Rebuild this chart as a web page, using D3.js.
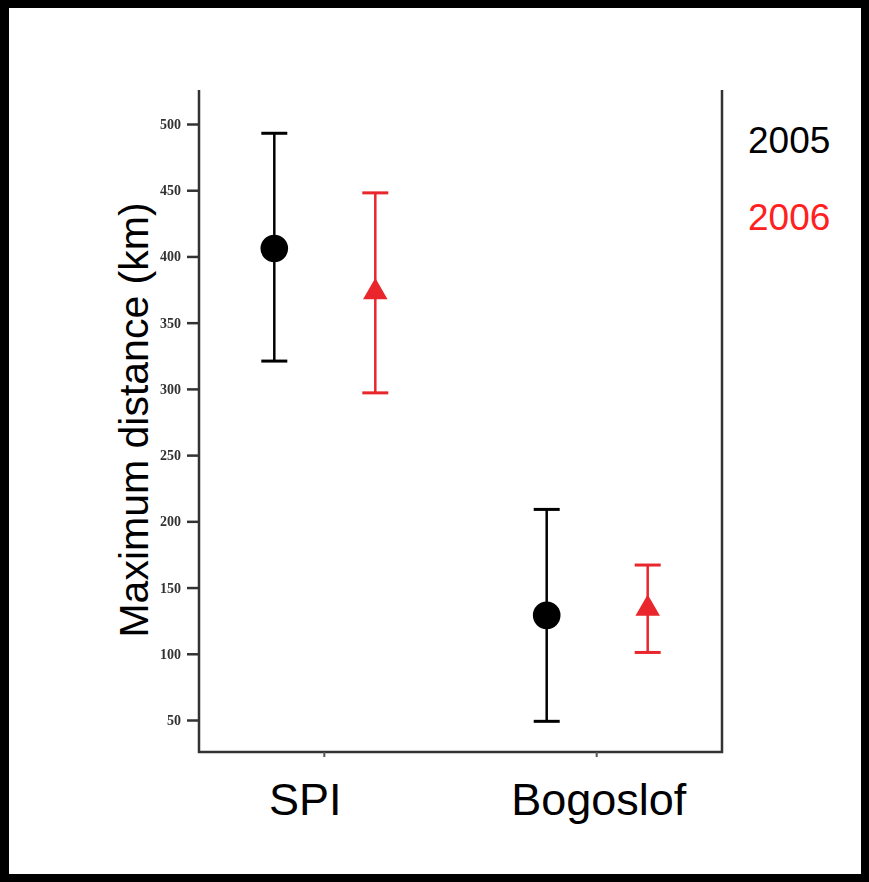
<!DOCTYPE html>
<html>
<head>
	<title></title>
	<style>
		body { margin: 0; background: #fff; }
		svg { display: block; }
	</style>
</head>
<body>
	<svg id="container" height="882" width="869"></svg>
</body>
<script src="https://d3js.org/d3.v7.min.js"></script>
<script>
	// sites along x, years as series
	let sites = ["SPI", "Bogoslof"]
	let years = ["2005", "2006"]
	let yearColors = ["#000000", "#e8262b"]
	let legendColors = ["#000000", "#ff2020"]

	// mean and error range, km
	let mean2005 = [406, 129]
	let low2005 = [321, 49]
	let high2005 = [493, 209]
	let mean2006 = [373, 134]
	let low2006 = [297, 101]
	let high2006 = [448, 167]

	let tickValues = [50, 100, 150, 200, 250, 300, 350, 400, 450, 500]

	let rows = []
	sites.forEach((s, i) => {
		rows.push({site: s, year: "2005", mean: mean2005[i], low: low2005[i], high: high2005[i]})
		rows.push({site: s, year: "2006", mean: mean2006[i], low: low2006[i], high: high2006[i]})
	})

	let svg = d3.select("#container")

	// blurred look of the tick labels
	let defs = svg.append("defs")
	defs.append("filter").attr("id", "soft")
		.append("feGaussianBlur").attr("stdDeviation", 0.7)

	let plotLeft = 199, plotRight = 722, plotTop = 90, plotBottom = 752

	let x = d3.scalePoint()
		.domain(sites)
		.range([plotLeft, plotRight])
		.padding(0.46)

	let xOff = d3.scalePoint()
		.domain(years)
		.range([-50, 51])

	let y = d3.scaleLinear()
		.domain([50, 500])
		.range([720, 124])

	let yAxis = d3.axisLeft(y)
		.tickValues(tickValues)
		.tickSize(12)
		.tickPadding(6)

	let gy = svg.append("g")
		.attr("transform", `translate(${plotLeft},0)`)
		.call(yAxis)
	gy.select(".domain").remove()
	gy.selectAll(".tick line").attr("stroke", "#333").attr("stroke-width", 2.5)
	gy.selectAll(".tick text")
		.attr("font-family", "Liberation Serif")
		.attr("font-weight", "bold")
		.attr("font-size", 14)
		.attr("fill", "#333")
		.attr("filter", "url(#soft)")

	// axis frame: left, bottom, right
	svg.append("path")
		.attr("d", `M${plotLeft},${plotTop}V${plotBottom}H${plotRight}V${plotTop}`)
		.attr("fill", "none")
		.attr("stroke", "#333")
		.attr("stroke-width", 2.5)

	// small category ticks on the bottom axis
	svg.selectAll(".xtick")
		.data(sites)
		.enter().append("line")
		.attr("class", "xtick")
		.attr("x1", d => x(d)).attr("x2", d => x(d))
		.attr("y1", plotBottom).attr("y2", plotBottom + 5)
		.attr("stroke", "#555")
		.attr("stroke-width", 2)

	svg.selectAll(".xlab")
		.data(sites)
		.enter().append("text")
		.attr("class", "xlab")
		.attr("x", d => x(d) + (d == "SPI" ? -19 : 2))
		.attr("y", 815)
		.attr("text-anchor", "middle")
		.attr("font-family", "Liberation Sans, Arial")
		.attr("font-size", 45)
		.text(d => d)

	svg.append("text")
		.attr("transform", "translate(148,420) rotate(-90)")
		.attr("text-anchor", "middle")
		.attr("font-family", "Liberation Sans, Arial")
		.attr("font-size", 41)
		.text("Maximum distance (km)")

	// error bars
	let cx = d => x(d.site) + xOff(d.year)
	let col = d => yearColors[years.indexOf(d.year)]
	let bars = svg.selectAll(".bar")
		.data(rows)
		.enter().append("g")
		.attr("class", "bar")

	bars.append("line")
		.attr("x1", cx).attr("x2", cx)
		.attr("y1", d => y(d.low)).attr("y2", d => y(d.high))
		.attr("stroke", col).attr("stroke-width", 2.5)
	bars.append("line")
		.attr("x1", d => cx(d) - 13).attr("x2", d => cx(d) + 13)
		.attr("y1", d => y(d.high)).attr("y2", d => y(d.high))
		.attr("stroke", col).attr("stroke-width", 3)
	bars.append("line")
		.attr("x1", d => cx(d) - 13).attr("x2", d => cx(d) + 13)
		.attr("y1", d => y(d.low)).attr("y2", d => y(d.low))
		.attr("stroke", col).attr("stroke-width", 3)

	bars.append("path")
		.attr("transform", d => `translate(${cx(d)},${y(d.mean)})`)
		.attr("d", d => d.year == "2005"
			? d3.symbol(d3.symbolCircle, 600)()
			: d3.symbol(d3.symbolTriangle, 260)())
		.attr("fill", col)

	// legend
	svg.selectAll(".leg")
		.data(years)
		.enter().append("text")
		.attr("class", "leg")
		.attr("x", 748)
		.attr("y", (d, i) => 153 + i * 77)
		.attr("font-family", "Liberation Sans, Arial")
		.attr("font-size", 37)
		.attr("fill", (d, i) => legendColors[i])
		.text(d => d)

	// black frame round the picture
	svg.append("rect")
		.attr("x", 4.5).attr("y", 3.5)
		.attr("width", 869 - 8).attr("height", 882 - 7)
		.attr("fill", "none")
		.attr("stroke", "#000")
		.attr("stroke-width", 9)
</script>
</html>
